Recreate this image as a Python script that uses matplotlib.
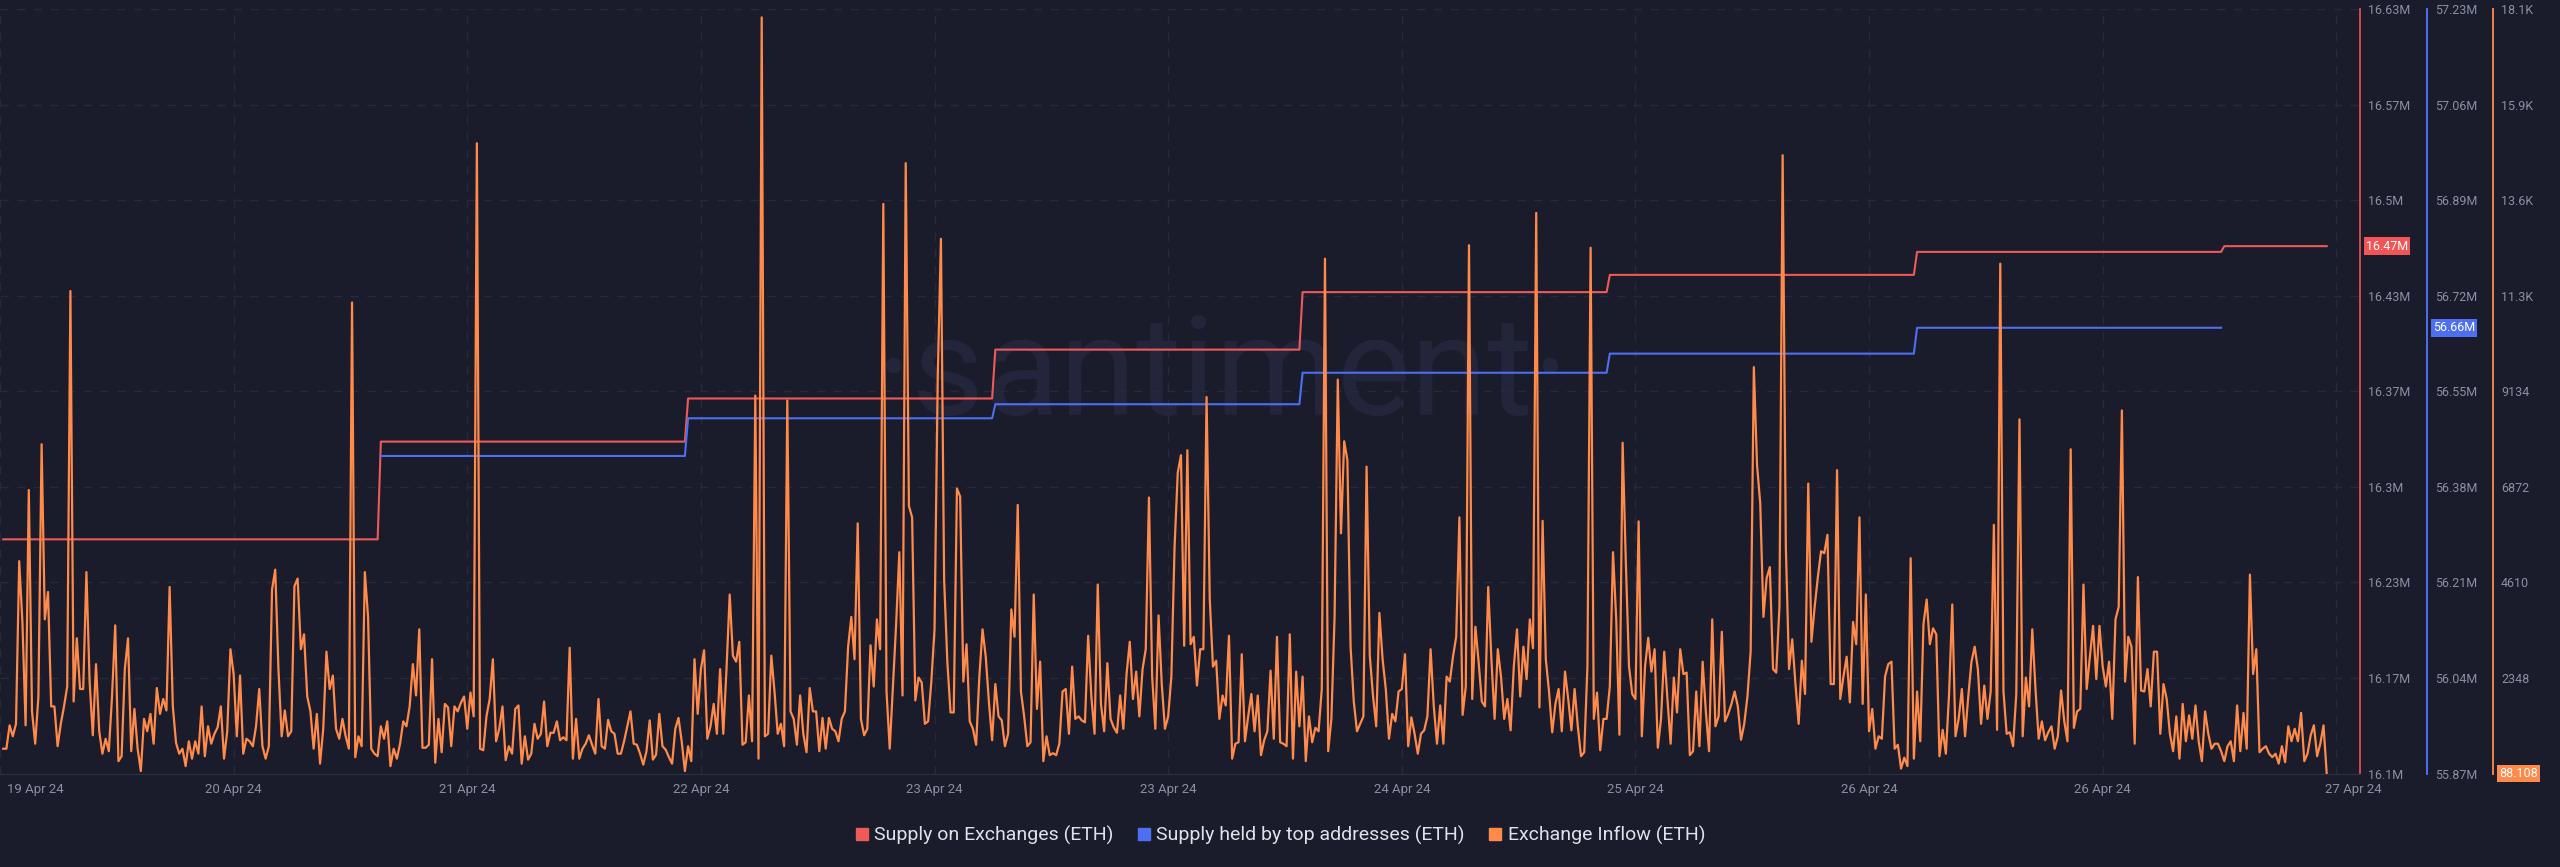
#!/usr/bin/env python

"""
ETH supply on exchanges, supply held by top addresses and exchange inflow
"""

import matplotlib
matplotlib.use("Agg")
import matplotlib.pyplot as plt
import matplotlib.transforms as mtransforms
from matplotlib.lines import Line2D
import numpy as np

plt.rcParams['font.family'] = ['Roboto', 'DejaVu Sans']

BG = '#1a1c2b'
GRID = '#262a3c'
TEXT = '#8a8fa3'
RED = '#ee5a5a'
BLUE = '#4d6ff2'
ORANGE = '#ff8a4a'

SAMPLE_H = 0.25  # exchange inflow comes in 15 minute samples

# exchange inflow (ETH), one value per 15 minutes
inflow = [
    675, 675, 1228, 969, 1264, 5114, 3677, 1228, 6798, 1558,
    793, 1911, 7881, 3736, 4384, 1676, 1676, 734, 1264, 1676,
    2147, 11508, 1793, 3289, 2088, 2088, 4855, 2264, 993, 2677,
    1087, 557, 910, 616, 1911, 3595, 380, 498, 2559, 3289,
    616, 1617, 675, 145, 1381, 1087, 1499, 793, 2111, 1499,
    1852, 1581, 4502, 1676, 816, 557, 675, 263, 851, 439,
    851, 557, 1676, 498, 1205, 793, 1028, 1181, 1676, 439,
    1087, 3030, 2441, 969, 2406, 557, 910, 851, 734, 1205,
    2088, 734, 439, 734, 4443, 4914, 2559, 969, 1581, 969,
    1087, 4525, 4702, 3030, 3383, 1911, 1558, 675, 1499, 321,
    1146, 2971, 2088, 2406, 1146, 910, 1381, 969, 675, 11237,
    475, 969, 734, 4855, 3795, 675, 557, 498, 1205, 910,
    1322, 263, 675, 439,
    793, 1322, 1205, 1676, 2677, 1935, 3501, 698, 698, 769,
    2794, 345, 1381, 592, 1735, 1652, 734, 1676, 1558, 1758,
    1911, 1146, 2005, 1440, 15005, 675, 639, 1440, 1852, 2794,
    851, 1146, 1676, 404, 734, 557, 1617, 1699, 321, 969,
    416, 557, 1264, 910, 1028, 1793, 734, 1052, 1052, 1322,
    875, 946, 875, 3065, 439, 1381, 439, 675, 793, 993,
    769, 557, 1852, 734, 675, 1358, 1087, 1028, 557, 557,
    851, 1205, 1558, 793, 769, 557, 298, 616, 1346, 416,
    533, 1499, 734, 651, 475, 321, 1146, 1405, 851, 145,
    734, 380, 2794, 1499, 2559, 3006, 910, 1205, 1735, 1028,
    2559, 1028, 2559, 4325, 2877, 2735, 3206, 769, 828, 1935,
    851, 9035, 439, 17984, 969, 1028, 2877, 2029, 1028, 1264,
    734, 8917,
    1558, 1381, 769, 1935, 1028, 592, 2111, 1558, 1558, 616,
    1405, 675, 1405, 1146, 1087, 851, 1381, 1558, 3089, 3795,
    2794, 6009, 1381, 993, 1146, 3124, 2147, 3736, 3030, 13568,
    2029, 675, 2147, 3619, 5326, 1935, 14534, 6421, 6150, 1817,
    2359, 2241, 1264, 1322, 2264, 3501, 9447, 12744, 4678, 2735,
    1534, 1534, 6833, 6645, 2264, 3148, 1322, 1146, 769, 2382,
    3501, 2853, 1770, 875, 2205, 1440, 1346, 734, 1028, 3972,
    3324, 6444, 2029, 1440, 734, 828, 4325, 1617, 2735, 380,
    969, 522, 569, 522, 793, 2029, 2088, 1028, 2618, 1381,
    1440, 1346, 1299, 3348, 1911, 1028, 4560, 1735, 1087, 2700,
    1381, 1181, 1052, 1935, 1146, 2441, 3206, 1852, 2500, 1440,
    2559, 3030, 6621, 2382, 1146, 3830, 2205, 1146, 1440, 2382,
    5444, 7210,
    7622, 3112, 7740, 3148, 3324, 2170, 3030, 3030, 9000, 4207,
    2618, 2759, 1381, 1935, 1699, 3348, 439, 793, 828, 2912,
    851, 1440, 1970, 1087, 1935, 522, 875, 1087, 2523, 910,
    3324, 828, 793, 734, 3383, 439, 2500, 1205, 2382, 380,
    1440, 828, 1169, 1087, 2088, 12273, 616, 1381, 3795, 9412,
    5773, 7952, 7504, 3089, 1793, 1087, 1264, 1440, 7351, 2877,
    1935, 1205, 3889, 2794, 2088, 910, 1499, 1322, 2029, 2088,
    2912, 734, 1417, 1028, 557, 1028, 1110, 1440, 3030, 1676,
    793, 1699, 793, 2382, 2264, 2853, 3324, 6150, 1475, 2147,
    12591, 1852, 3560, 2735, 1793, 1676, 4502, 2794, 1381, 3030,
    2382, 1381, 1852, 1110, 2618, 3501, 1911, 3089, 2323, 3736,
    3053, 13356, 1652, 6068, 2794, 2029, 1063, 1735, 2088, 1087,
    2500, 1852,
    1110, 2088, 1205, 498, 592, 2618, 12532, 1381, 2005, 639,
    1381, 1381, 2147, 5326, 3736, 1005, 7916, 5090, 2618, 1970,
    1852, 6056, 969, 2618, 3301, 2500, 3030, 698, 1381, 2971,
    1852, 793, 2359, 1534, 3030, 2441, 2476, 522, 616, 2029,
    734, 2735, 1558, 616, 3736, 1205, 1440, 3442, 1322, 1499,
    1735, 2029, 1676, 887, 1264, 1911, 2971, 9706, 7386, 6480,
    3795, 4714, 4973, 2559, 2476, 4031, 14722, 5444, 2559, 3265,
    2205, 1264, 2759, 1970, 6951, 3206, 4031, 4737, 5349, 5302,
    5738, 2205, 2205, 7269, 1852, 2382, 2853, 1770, 3677, 3148,
    6150, 1735, 4325, 1087, 1617, 675, 969, 910, 2382, 2677,
    2735, 675, 769, 204, 463, 263, 5184, 439, 2029, 851,
    3619, 4207, 3148, 3524, 3383, 498, 1122, 557, 1970, 4090,
    969, 1381,
    2088, 969, 1911, 2735, 3089, 2559, 1264, 2170, 1381, 2029,
    5974, 1122, 12155, 2029, 1028, 1063, 734, 1970, 8470, 969,
    2359, 1676, 3501, 2088, 910, 1322, 875, 1063, 1205, 675,
    969, 2053, 1322, 851, 7763, 1169, 1558, 1617, 4560, 2088,
    2853, 3583, 2323, 3583, 2618, 2147, 2735, 1381, 3736, 4031,
    8682, 2264, 3324, 3089, 793, 4737, 2053, 2029, 2559, 1676,
    2971, 2971, 1028, 2205, 1852, 1028, 616, 1440, 439, 1735,
    851, 1464, 910, 1699, 851, 380, 1558, 1028, 675, 793,
    793, 616, 380, 734, 851, 380, 1699, 616, 1523, 675,
    4796, 2441, 3030, 592, 675, 734, 557, 475, 557, 321,
    734, 357, 1205, 851, 1146, 851, 1523, 380, 557, 993,
    1228, 498, 793, 1228, 88.108,
]

# daily supply metrics (millions of ETH), hours after the first inflow sample
day_starts = [0, 29.5, 53.5, 77.5, 101.5, 125.5, 149.5, 173.5]
exchange_supply = [16.263, 16.331, 16.361, 16.395, 16.435, 16.447, 16.463, 16.467]
top_supply = [56.435, 56.502, 56.527, 56.583, 56.617, 56.663]  # from day 2 on

red_ticks = ["16.1M", "16.17M", "16.23M", "16.3M", "16.37M", "16.43M", "16.5M", "16.57M", "16.63M"]
blue_ticks = ["55.87M", "56.04M", "56.21M", "56.38M", "56.55M", "56.72M", "56.89M", "57.06M", "57.23M"]
orange_ticks = ["", "2348", "4610", "6872", "9134", "11.3K", "13.6K", "15.9K", "18.1K"]
red_range = (16.1, 16.632)
blue_range = (55.87, 57.23)
orange_range = (86, 18182)

date_labels = ["19 Apr 24", "20 Apr 24", "21 Apr 24", "22 Apr 24", "23 Apr 24", "23 Apr 24",
               "24 Apr 24", "25 Apr 24", "26 Apr 24", "26 Apr 24", "27 Apr 24"]
x_range = (-0.25, 184.1)
x_ticks = np.linspace(-0.25, 182.25, len(date_labels))

legend_names = ["Supply on Exchanges (ETH)", "Supply held by top addresses (ETH)", "Exchange Inflow (ETH)"]


def hold_daily(values, starts, end):
    """
    hold each daily value until one sample before the next day starts
    """
    xs, ys = [], []
    for i, v in enumerate(values):
        stop = starts[i + 1] - SAMPLE_H if i + 1 < len(starts) else end
        xs += [starts[i], stop]
        ys += [v, v]
    return xs, ys


def style_axis(axis, color, offset_px, lo_hi, labels):
    axis.set_ylim(*lo_hi)
    axis.set_yticks(np.linspace(lo_hi[0], lo_hi[1], len(labels)))
    axis.set_yticklabels(labels)
    axis.yaxis.tick_right()
    axis.tick_params(axis='y', length=0, pad=5.8, labelsize=9, labelcolor=TEXT)
    for side in ('left', 'top', 'bottom'):
        axis.spines[side].set_visible(False)
    axis.spines['right'].set_position(('outward', offset_px * 0.72))
    axis.spines['right'].set_color(color)
    axis.spines['right'].set_linewidth(1.4)


def badge(axis, text, value, color, offset_px):
    axis.annotate(text, xy=(1, value), xycoords=axis.get_yaxis_transform(),
                  xytext=(offset_px, 0), textcoords='offset pixels',
                  ha='left', va='center', fontsize=9, color='white',
                  bbox=dict(boxstyle='square,pad=0.18', fc=color, ec='none'),
                  annotation_clip=False, zorder=10)


def main():
    t = np.arange(len(inflow)) * SAMPLE_H

    fig = plt.figure(figsize=(25.6, 8.67), dpi=100, facecolor=BG)
    ax = fig.add_axes([0, 93.4 / 867, 2360 / 2560, 764.6 / 867])
    ax.set_facecolor(BG)
    ax_b = ax.twinx()
    ax_o = ax.twinx()

    style_axis(ax, '#d04c4c', 0, red_range, red_ticks)
    style_axis(ax_b, BLUE, 67, blue_range, blue_ticks)
    style_axis(ax_o, '#e8864f', 133, orange_range, orange_ticks)
    ax.spines['bottom'].set_visible(True)
    ax.spines['bottom'].set_color('#2c3043')

    ax.set_xlim(*x_range)
    ax.set_xticks(x_ticks)
    ax.set_xticklabels(date_labels)
    ax.tick_params(axis='x', length=0, pad=7, labelsize=9.5, labelcolor=TEXT)
    ax.grid(True, color=GRID, linestyle=(0, (6, 6)), linewidth=1)
    ax.set_axisbelow(True)

    # first date sits inside the chart, last one is nudged right
    labels = ax.get_xticklabels()
    labels[0].set_horizontalalignment('left')
    labels[0].set_transform(labels[0].get_transform()
                            + mtransforms.ScaledTranslation(0.07, 0, fig.dpi_scale_trans))
    labels[-1].set_transform(labels[-1].get_transform()
                             + mtransforms.ScaledTranslation(0.17, 0, fig.dpi_scale_trans))

    ax.text(0.518, 0.52, '·santiment·', transform=ax.transAxes, ha='center', va='center',
            fontsize=100, fontweight='normal', color='#23263a', zorder=0)

    rx, ry = hold_daily(exchange_supply, day_starts, t[-1])
    ax.plot(rx, ry, color=RED, linewidth=1.5, zorder=3)
    bx, by = hold_daily(top_supply, day_starts[1:], t[-1])
    ax_b.plot(bx, by, color=BLUE, linewidth=1.5)
    ax_o.plot(t, inflow, color=ORANGE, linewidth=1.6)

    badge(ax, '16.47M', exchange_supply[-1], '#f25555', 6)
    badge(ax_b, '56.66M', top_supply[-1], '#4d6ff2', 73)
    badge(ax_o, '88.108', inflow[-1], '#ff8a4a', 139)

    handles = [Line2D([], [], marker='s', linestyle='none', markersize=8, color=c)
               for c in (RED, BLUE, ORANGE)]
    fig.legend(handles, legend_names, loc='center', bbox_to_anchor=(0.5, 32 / 867), ncol=3,
               frameon=False, fontsize=14, labelcolor='#dfe2ea', handlelength=0.7,
               handletextpad=0.3, columnspacing=1.2)

    fig.savefig('out.png', dpi=100, facecolor=BG)


if __name__ == "__main__":
    main()
